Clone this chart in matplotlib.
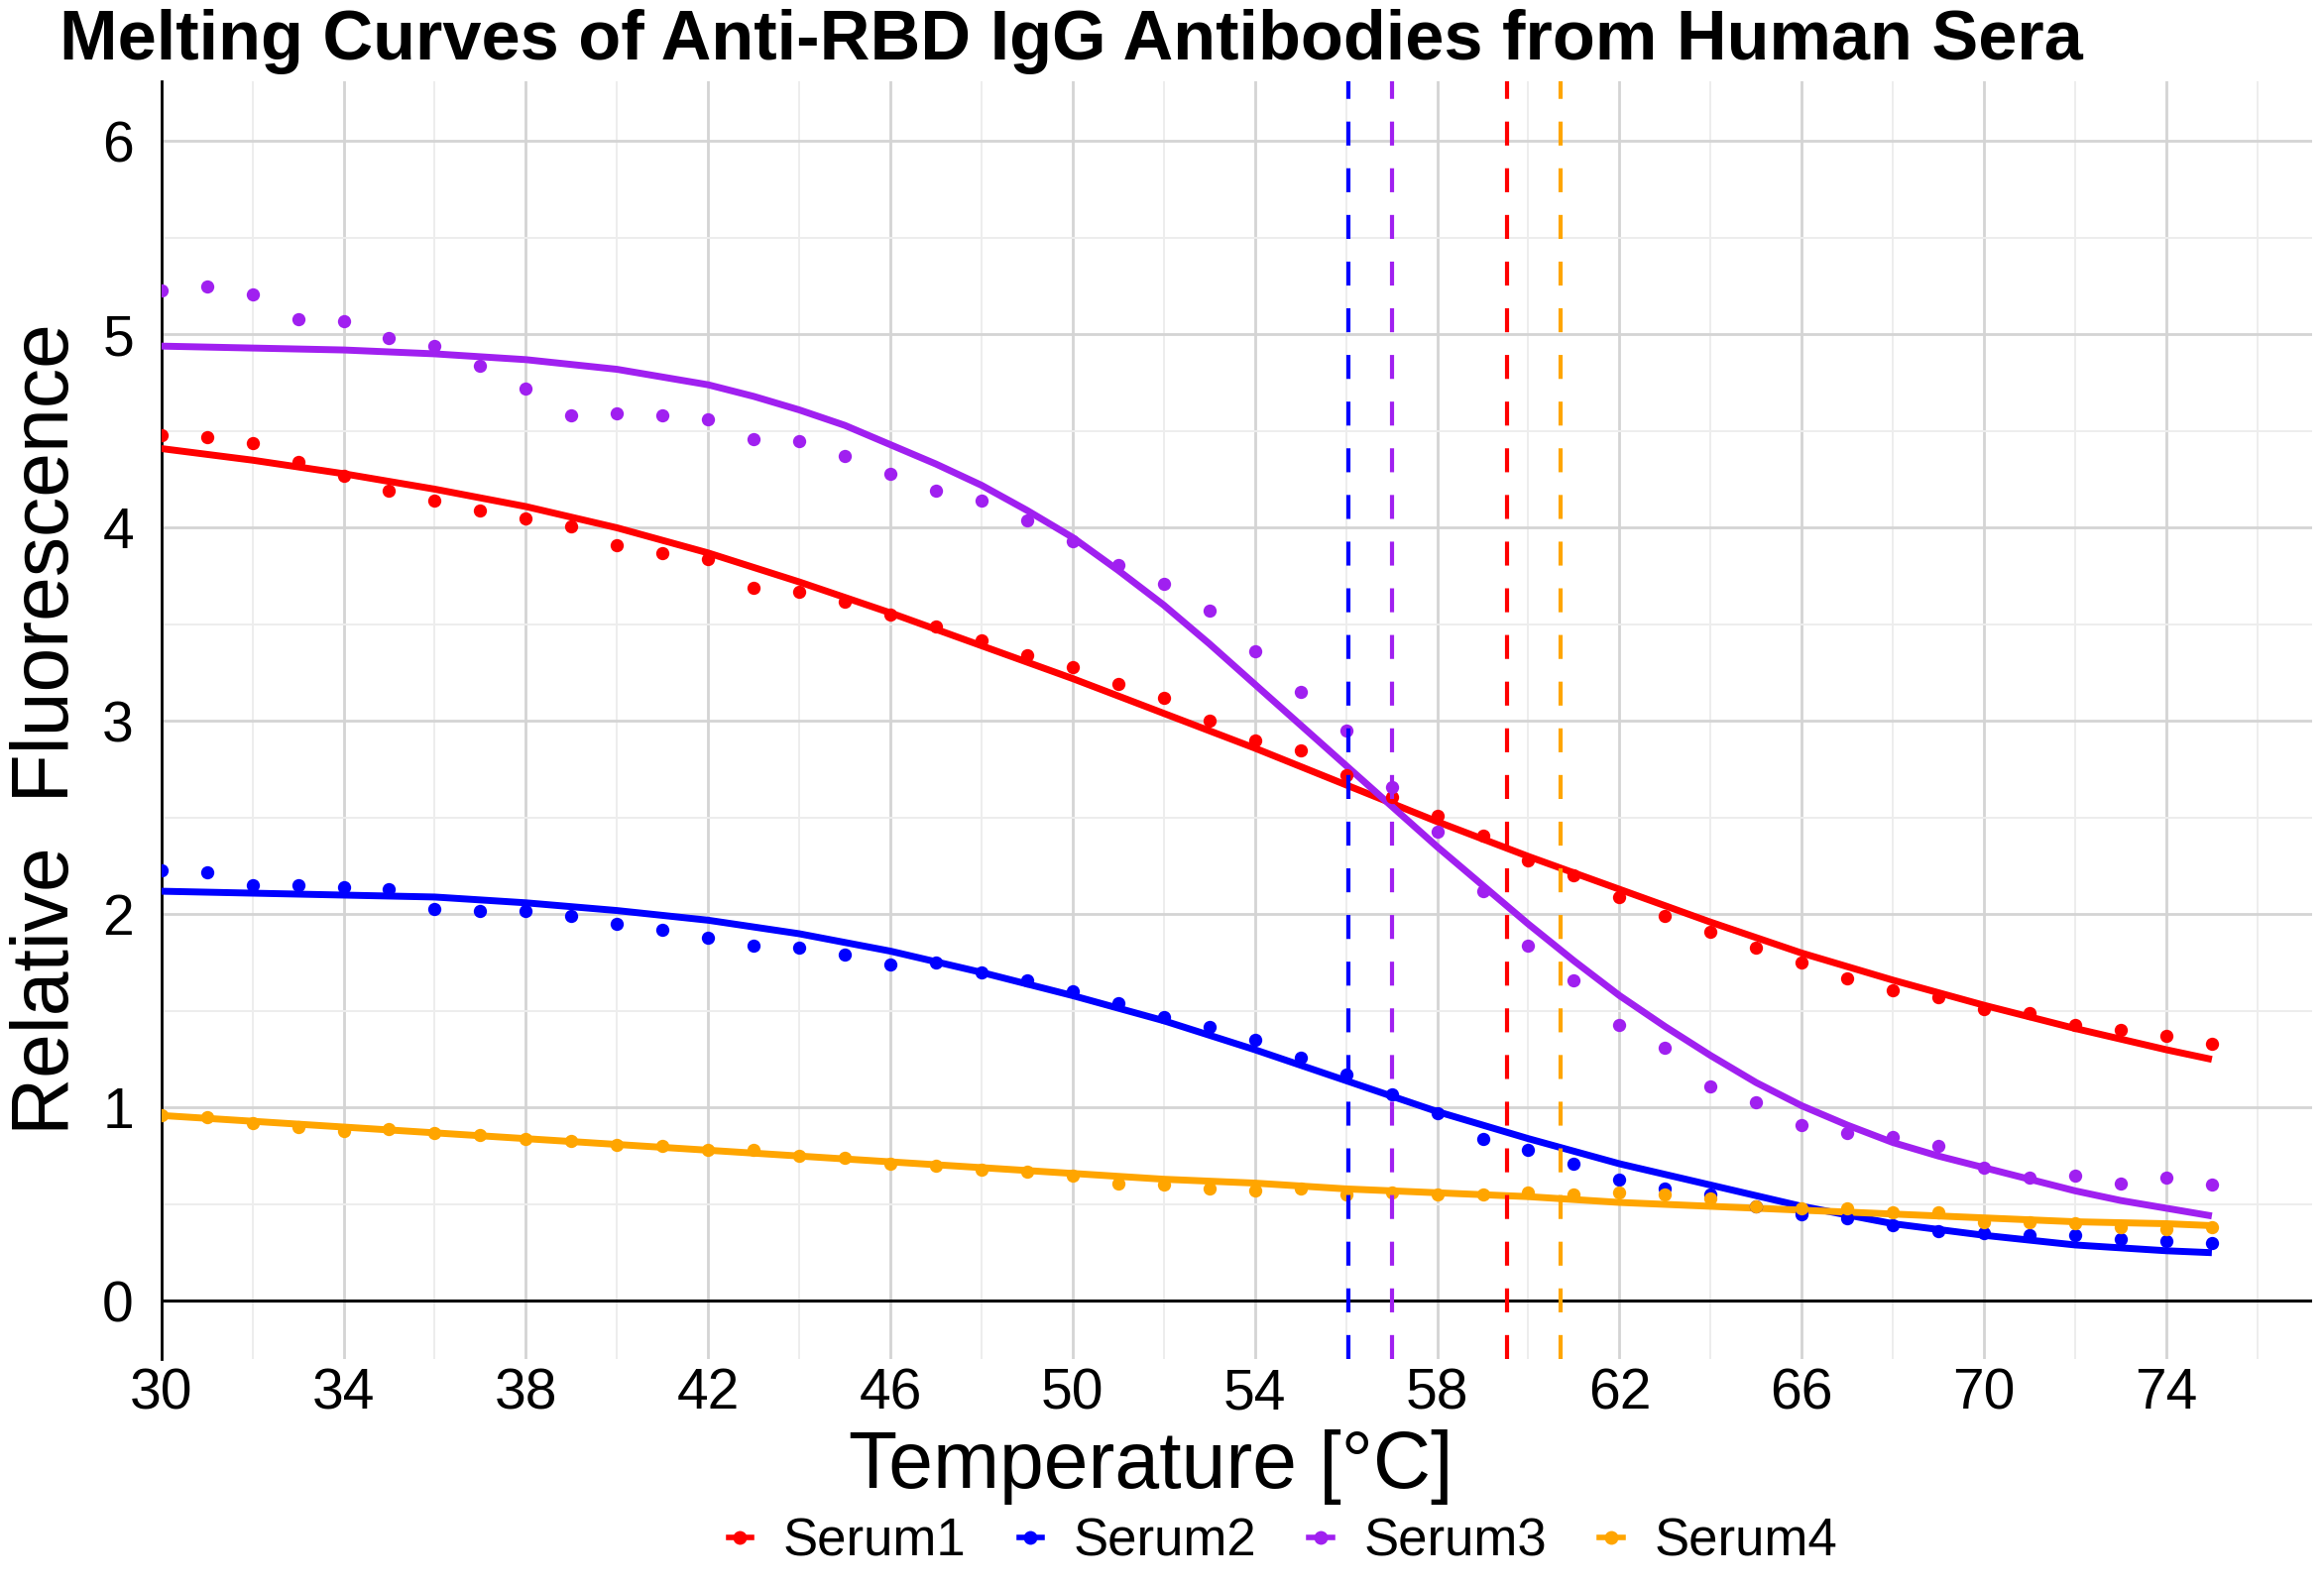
import matplotlib
matplotlib.use("Agg")
import matplotlib.pyplot as plt
from matplotlib.lines import Line2D
from matplotlib.ticker import MultipleLocator

plt.rcParams['font.family'] = ['Liberation Sans', 'DejaVu Sans']

# ---------------- data ----------------
temps = list(range(30, 76))

serum1_pts = [4.48, 4.47, 4.44, 4.34, 4.27, 4.19, 4.14, 4.09, 4.05, 4.01,
              3.91, 3.87, 3.84, 3.69, 3.67, 3.62, 3.55, 3.49, 3.42, 3.34,
              3.28, 3.19, 3.12, 3.00, 2.90, 2.85, 2.72, 2.61, 2.51, 2.41,
              2.28, 2.20, 2.09, 1.99, 1.91, 1.83, 1.75, 1.67, 1.61, 1.57,
              1.51, 1.49, 1.43, 1.40, 1.37, 1.33]
serum2_pts = [2.23, 2.22, 2.15, 2.15, 2.14, 2.13, 2.03, 2.02, 2.02, 1.99,
              1.95, 1.92, 1.88, 1.84, 1.83, 1.79, 1.74, 1.75, 1.70, 1.66,
              1.60, 1.54, 1.47, 1.42, 1.35, 1.26, 1.17, 1.07, 0.97, 0.84,
              0.78, 0.71, 0.63, 0.58, 0.55, 0.49, 0.45, 0.43, 0.39, 0.36,
              0.35, 0.34, 0.34, 0.32, 0.31, 0.30]
serum3_pts = [5.23, 5.25, 5.21, 5.08, 5.07, 4.98, 4.94, 4.84, 4.72, 4.58,
              4.59, 4.58, 4.56, 4.46, 4.45, 4.37, 4.28, 4.19, 4.14, 4.04,
              3.93, 3.81, 3.71, 3.57, 3.36, 3.15, 2.95, 2.66, 2.43, 2.12,
              1.84, 1.66, 1.43, 1.31, 1.11, 1.03, 0.91, 0.87, 0.85, 0.80,
              0.69, 0.64, 0.65, 0.61, 0.64, 0.60]
serum4_pts = [0.96, 0.95, 0.92, 0.90, 0.88, 0.89, 0.87, 0.86, 0.84, 0.83,
              0.81, 0.80, 0.78, 0.78, 0.75, 0.74, 0.71, 0.70, 0.68, 0.67,
              0.65, 0.61, 0.60, 0.58, 0.57, 0.58, 0.55, 0.56, 0.55, 0.55,
              0.56, 0.55, 0.56, 0.55, 0.53, 0.49, 0.48, 0.48, 0.46, 0.46,
              0.41, 0.41, 0.40, 0.38, 0.37, 0.38]

# fitted curves
fit_temps = [30, 32, 34, 36, 38, 40, 42, 44, 46, 48, 50, 52, 54, 56, 58,
             60, 62, 64, 66, 68, 70, 72, 74, 75]
serum1_fit = [4.41, 4.35, 4.28, 4.20, 4.11, 4.00, 3.87, 3.72, 3.56, 3.39,
              3.22, 3.04, 2.86, 2.67, 2.48, 2.30, 2.13, 1.96, 1.80, 1.66,
              1.53, 1.41, 1.30, 1.25]
serum2_fit = [2.12, 2.11, 2.10, 2.09, 2.06, 2.02, 1.97, 1.90, 1.81, 1.70,
              1.58, 1.45, 1.30, 1.14, 0.98, 0.84, 0.71, 0.60, 0.49, 0.40,
              0.34, 0.29, 0.26, 0.25]
serum4_fit = [0.96, 0.93, 0.90, 0.87, 0.84, 0.81, 0.78, 0.75, 0.72, 0.69,
              0.66, 0.63, 0.61, 0.58, 0.56, 0.54, 0.51, 0.49, 0.47, 0.45,
              0.43, 0.41, 0.40, 0.39]
serum3_fit_temps = [30, 32, 34, 36, 38, 40, 42, 43, 44, 45, 46, 47, 48, 49,
                    50, 51, 52, 53, 54, 55, 56, 57, 58, 59, 60, 61, 62, 63,
                    64, 65, 66, 67, 68, 69, 70, 71, 72, 73, 74, 75]
serum3_fit = [4.94, 4.93, 4.92, 4.90, 4.87, 4.82, 4.74, 4.68, 4.61, 4.53,
              4.43, 4.33, 4.22, 4.09, 3.95, 3.78, 3.60, 3.40, 3.19, 2.98,
              2.77, 2.56, 2.35, 2.15, 1.95, 1.76, 1.58, 1.42, 1.27, 1.13,
              1.01, 0.91, 0.82, 0.75, 0.69, 0.63, 0.57, 0.52, 0.48, 0.44]

names = ['Serum1', 'Serum2', 'Serum3', 'Serum4']
colors = ['#FF0000', '#0000FF', '#A020F0', '#FFA500']
tm_values = [59.53, 56.06, 57.0, 60.71]

x_ticks = list(range(30, 75, 4))
y_ticks = [0, 1, 2, 3, 4, 5, 6]

points = [serum1_pts, serum2_pts, serum3_pts, serum4_pts]
fits = [(fit_temps, serum1_fit), (fit_temps, serum2_fit),
        (serum3_fit_temps, serum3_fit), (fit_temps, serum4_fit)]

# ---------------- figure ----------------
W, H = 2344, 1600
dpi = 200
fig = plt.figure(figsize=(W / dpi, H / dpi), dpi=dpi)
ax = fig.add_axes([162.7 / W, 1 - 1371 / H, (2332 - 162.7) / W, (1371 - 82) / H])

ax.set_xlim(30, 77.2)
ax.set_ylim(-0.3, 6.31)

ax.xaxis.set_minor_locator(MultipleLocator(2))
ax.yaxis.set_minor_locator(MultipleLocator(0.5))
ax.set_xticks(x_ticks)
ax.set_yticks(y_ticks)

ax.grid(which='major', color='#D4D4D4', linewidth=1.0, zorder=0)
ax.grid(which='minor', color='#EDEDED', linewidth=0.7, zorder=0)
ax.set_axisbelow(True)

for s in ['top', 'right', 'bottom']:
    ax.spines[s].set_visible(False)
ax.spines['left'].set_color('black')
ax.spines['left'].set_linewidth(1.0)
ax.axhline(0, color='black', linewidth=1.1, zorder=1)

ax.tick_params(axis='both', which='both', length=0, labelsize=20.5)
ax.tick_params(axis='y', pad=10)
ax.tick_params(axis='x', pad=3)

for name, col, pts, (ft, fv) in zip(names, colors, points, fits):
    ax.plot(ft, fv, color=col, linewidth=2.5, zorder=3,
            solid_capstyle='butt', solid_joinstyle='round')
    ax.plot(temps, pts, linestyle='none', marker='o', markersize=4.8,
            markeredgewidth=0, color=col, zorder=4)

for col, tm in zip(colors, tm_values):
    ax.axvline(tm, color=col, linewidth=1.5, dashes=(5.8, 5.5), zorder=5)

# ---------------- text ----------------
fig.text(60 / W, 1 - 60 / H,
         'Melting Curves of Anti-RBD IgG Antibodies from Human Sera',
         fontsize=25.3, fontweight='bold', ha='left', va='baseline')

fig.text(1161 / W, 1 - 1501 / H, 'Temperature [°C]', fontsize=29,
         ha='center', va='baseline')
fig.text(48 / W, 1 - 736 / H, 'Relative  Fluorescence', fontsize=29,
         ha='center', va='center', rotation=90)

handles = [Line2D([0], [0], color=c, marker='o', markersize=5,
                  linewidth=2, markeredgewidth=0) for c in colors]
fig.legend(handles, names, loc='center', ncol=4,
           bbox_to_anchor=(1294 / W, 1 - 1555 / H),
           frameon=False, fontsize=19, handlelength=0.45,
           handletextpad=0.6, columnspacing=1.0)

fig.savefig('out.png', dpi=dpi)
